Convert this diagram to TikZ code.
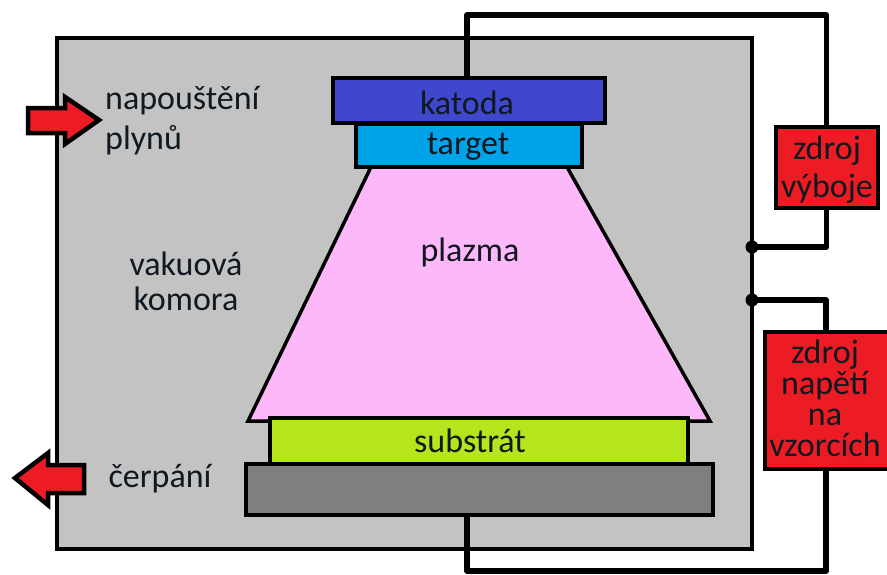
\documentclass[tikz,border=0pt]{standalone}
\usepackage{fontspec}
\setmainfont{Carlito}
\definecolor{cham}{HTML}{C3C3C3}
\definecolor{redb}{HTML}{ED1C24}
\definecolor{katc}{HTML}{3F48CC}
\definecolor{tarc}{HTML}{00A2E8}
\definecolor{plac}{HTML}{FDB8FA}
\definecolor{subc}{HTML}{B5E61D}
\definecolor{basec}{HTML}{7F7F7F}
\definecolor{txt}{HTML}{101820}
\tikzset{
  box/.style={draw=black,line width=4.5pt,inner sep=0pt,outer sep=0pt},
  label/.style={inner sep=0pt,align=left,text=txt,font=\fontsize{34}{38}\selectfont},
  wire/.style={line width=5.5pt,line join=round,draw=black},
  flow/.style={draw=black,fill=redb,line width=4.5pt,line join=miter},
  dot/.style={circle,fill=black,minimum size=13pt,inner sep=0pt}
}
\newcommand{\rectnode}[6]{\node[box,fill=#2,minimum width=#5pt-#3pt,minimum height=#6pt-#4pt] (#1) at ({(#3+#5)/2},{(#4+#6)/2}) {};}
\begin{document}
\begin{tikzpicture}[x=1pt,y=-1pt]
\useasboundingbox (0,0) rectangle (887,574);
\clip (0,0) rectangle (887,574);
\rectnode{chamber}{cham}{57}{38}{752}{549}
\draw[fill=plac,line width=3.5pt,line join=miter] (371,167) -- (567,167) -- (710,421) -- (248,421) -- cycle;
\coordinate (j1) at (752,247);
\coordinate (j2) at (752,300);
\coordinate (topl) at (467,15);
\coordinate (topr) at (826.5,15);
\coordinate (botl) at (467,571);
\coordinate (botr) at (826,571);
\coordinate (mid1) at (826.5,247);
\coordinate (mid2) at (826,300);
\draw[wire] (topl |- 0,78) -- (topl) -- (topr) -- (mid1) -- (j1);
\draw[wire] (j2) -- (mid2) -- (botr) -- (botl) -- (botl |- 0,515);
\rectnode{katoda}{katc}{333}{78}{605}{123}
\rectnode{target}{tarc}{356}{124}{582}{167}
\rectnode{substrat}{subc}{270}{418}{688}{464}
\rectnode{base}{basec}{246}{464}{713}{515}
\rectnode{zv}{redb}{776}{127}{878}{208}
\rectnode{zn}{redb}{765}{332}{892}{469}
\node[dot] (d1) at (j1) {};
\node[dot] (d2) at (j2) {};
\draw[flow] (28,108) -- (65,108) -- (65,97) -- (99,120) -- (65,144) -- (65,133) -- (28,133) -- cycle;
\draw[flow] (84,465) -- (48,465) -- (48,453) -- (15,478) -- (48,505) -- (48,493) -- (84,493) -- cycle;
\node[label,anchor=west,font=\fontsize{34}{40}\selectfont] (t1) at (105,121) {napouštění\\plynů};
\node[label,align=center,font=\fontsize{34}{35}\selectfont] (t2) at (186,281) {vakuová\\komora};
\node[label] (t3) at (160,479) {čerpání};
\node[label] (t4) at (470,252) {plazma};
\node[label] (t5) at (467,103) {katoda};
\node[label] (t6) at (468,147) {target};
\node[label] (t7) at (470,441) {substrát};
\node[label,align=center] (t8) at (827,170) {zdroj\\výboje};
\node[label,align=center,font=\fontsize{34}{31}\selectfont] (t9) at (825,398) {zdroj\\napětí\\na\\vzorcích};
\end{tikzpicture}
\end{document}
